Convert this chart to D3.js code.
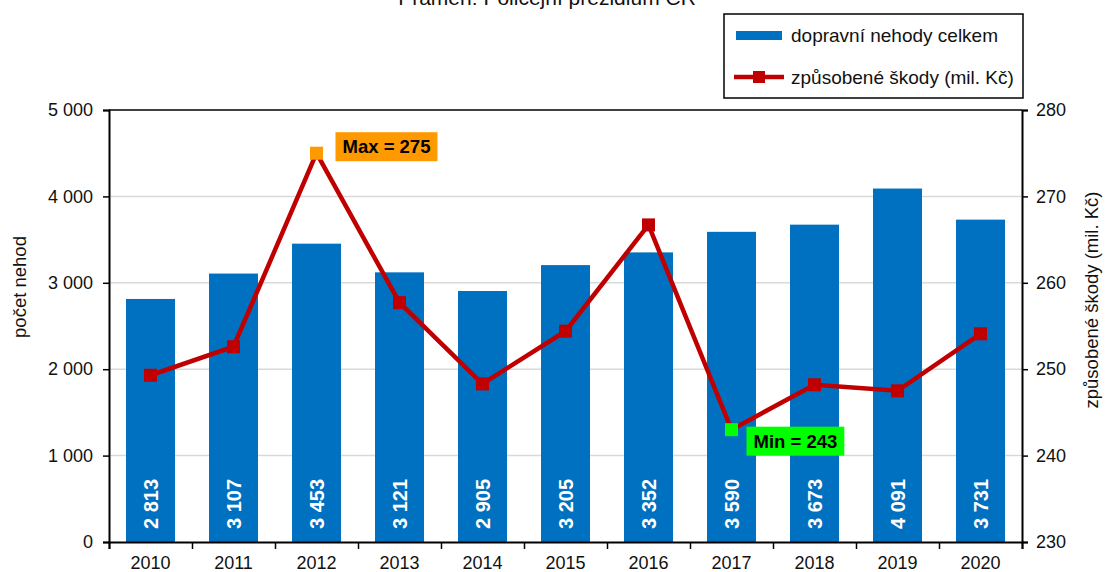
<!DOCTYPE html>
<html>
<head>
<meta charset="utf-8">
<script src="https://cdn.jsdelivr.net/npm/d3@7"></script>
<style>
  body { margin: 0; background: #fff; }
  text { font-family: Arial, "Liberation Sans", sans-serif; }
</style>
</head>
<body>
<div class="chart"></div>
<script>
const years = ["2010","2011","2012","2013","2014","2015","2016","2017","2018","2019","2020"]
const accidents = [2813, 3107, 3453, 3121, 2905, 3205, 3352, 3590, 3673, 4091, 3731]
const damages = [249.3, 252.6, 275.0, 257.7, 248.3, 254.4, 266.7, 243.0, 248.2, 247.5, 254.1]
const leftTicks = [0, 1000, 2000, 3000, 4000, 5000]
const rightTicks = [230, 240, 250, 260, 270, 280]

const W = 1106, H = 572
const margin = {top: 110, right: 84, bottom: 30, left: 109}
const width = W - margin.left - margin.right
const height = H - margin.top - margin.bottom

const fmt = v => d3.format(",")(v).replace(/,/g, " ")

const svgRoot = d3.select(".chart").append("svg")
  .attr("width", W).attr("height", H)
const svg = svgRoot.append("g")
  .attr("transform", `translate(${margin.left},${margin.top})`)

// title (cut off at top in the original)
svgRoot.append("text")
  .attr("x", 547).attr("y", 5)
  .attr("text-anchor", "middle")
  .style("font-size", "21px").attr("fill", "#111")
  .text("Pramen: Policejní prezidium ČR")

const x = d3.scaleBand().domain(years).range([0, width]).paddingInner(0.41).paddingOuter(0.205)
const xEdge = d3.scaleLinear().domain([0, years.length]).range([0, width])
const yL = d3.scaleLinear().domain([0, 5000]).range([height, 0])
const yR = d3.scaleLinear().domain([230, 280]).range([height, 0])

// grid
svg.append("g").selectAll("line")
  .data(leftTicks.slice(1, -1))
  .join("line")
    .attr("x1", 0).attr("x2", width)
    .attr("y1", d => yL(d)).attr("y2", d => yL(d))
    .attr("stroke", "#d9d9d9").attr("stroke-width", 1.5)

// bars
svg.append("g").selectAll("rect")
  .data(accidents)
  .join("rect")
    .attr("x", (d, i) => x(years[i]))
    .attr("y", d => yL(d))
    .attr("width", x.bandwidth())
    .attr("height", d => height - yL(d))
    .attr("fill", "#0070c0")

// bar labels
svg.append("g").selectAll("text")
  .data(accidents)
  .join("text")
    .attr("transform", (d, i) => `translate(${x(years[i]) + x.bandwidth() / 2 + 7},${height - 13}) rotate(-90)`)
    .attr("fill", "#fff")
    .style("font-size", "20px").style("font-weight", "bold")
    .text(d => fmt(d))

// top border
svg.append("line").attr("x1", 0).attr("x2", width).attr("y1", 0).attr("y2", 0)
  .attr("stroke", "#000").attr("stroke-width", 1.5)

// axes
const axL = svg.append("g")
  .call(d3.axisLeft(yL).tickValues(leftTicks).tickFormat(fmt).tickSize(6).tickPadding(10))
const axR = svg.append("g").attr("transform", `translate(${width},0)`)
  .call(d3.axisRight(yR).tickValues(rightTicks).tickSize(6).tickPadding(8))
const axB = svg.append("g").attr("transform", `translate(0,${height})`)
  .call(d3.axisBottom(xEdge).tickValues(d3.range(0, years.length + 1)).tickFormat("").tickSize(7))
svg.append("g").selectAll("text")
  .data(years)
  .join("text")
    .attr("x", d => x(d) + x.bandwidth() / 2)
    .attr("y", height + 27)
    .attr("text-anchor", "middle")
    .style("font-size", "18px").attr("fill", "#111")
    .text(d => d)

;[axL, axR, axB].forEach(a => {
  a.select(".domain").attr("stroke", "#000").attr("stroke-width", 2)
  a.selectAll(".tick line").attr("stroke", "#000").attr("stroke-width", 1.5)
  a.selectAll(".tick text").style("font-size", "18px").attr("fill", "#111")
})

// axis titles
svgRoot.append("text")
  .attr("transform", `translate(26,287) rotate(-90)`)
  .attr("text-anchor", "middle")
  .style("font-size", "18.5px").attr("fill", "#111")
  .text("počet nehod")
svgRoot.append("text")
  .attr("transform", `translate(1098,300) rotate(-90)`)
  .attr("text-anchor", "middle")
  .style("font-size", "18.5px").attr("fill", "#111")
  .text("způsobené škody (mil. Kč)")

// line
const cx = i => x(years[i]) + x.bandwidth() / 2
svg.append("path")
  .datum(damages)
  .attr("fill", "none").attr("stroke", "#c00000").attr("stroke-width", 4.5)
  .attr("stroke-linejoin", "miter")
  .attr("d", d3.line().x((d, i) => cx(i)).y(d => yR(d)))

const iMax = d3.maxIndex(damages), iMin = d3.minIndex(damages)
svg.append("g").selectAll("rect")
  .data(damages)
  .join("rect")
    .attr("x", (d, i) => cx(i) - 6.5)
    .attr("y", d => yR(d) - 6.5)
    .attr("width", 13).attr("height", 13)
    .attr("fill", (d, i) => i === iMax ? "#ff9900" : i === iMin ? "#00ff00" : "#c00000")

// max / min callouts
const callouts = [
  {i: iMax, label: "Max = " + d3.format("d")(damages[iMax]), fill: "#ff9900", dx: 19, dy: -21},
  {i: iMin, label: "Min = " + d3.format("d")(damages[iMin]), fill: "#00ff00", dx: 15, dy: -3}
]
callouts.forEach(c => {
  const g = svg.append("g").attr("transform", `translate(${cx(c.i) + c.dx},${yR(damages[c.i]) + c.dy})`)
  const t = g.append("text")
    .attr("x", 7).attr("y", 21)
    .style("font-size", "18.5px").style("font-weight", "bold").attr("fill", "#000")
    .text(c.label)
  const bb = t.node().getBBox()
  g.insert("rect", "text")
    .attr("x", 0).attr("y", 0)
    .attr("width", bb.width + 14).attr("height", 29)
    .attr("fill", c.fill)
})

// legend
const lg = svgRoot.append("g").attr("transform", "translate(724,14)")
lg.append("rect").attr("width", 299).attr("height", 84)
  .attr("fill", "#fff").attr("stroke", "#000").attr("stroke-width", 1.5)
lg.append("rect").attr("x", 12).attr("y", 17).attr("width", 46).attr("height", 9).attr("fill", "#0070c0")
lg.append("text").attr("x", 67).attr("y", 28).style("font-size", "19px").attr("fill", "#111")
  .text("dopravní nehody celkem")
lg.append("line").attr("x1", 10).attr("x2", 60).attr("y1", 63).attr("y2", 63)
  .attr("stroke", "#c00000").attr("stroke-width", 4.5)
lg.append("rect").attr("x", 29).attr("y", 57).attr("width", 12).attr("height", 12).attr("fill", "#c00000")
lg.append("text").attr("x", 67).attr("y", 70).style("font-size", "19px").attr("fill", "#111")
  .text("způsobené škody (mil. Kč)")
</script>
</body>
</html>
